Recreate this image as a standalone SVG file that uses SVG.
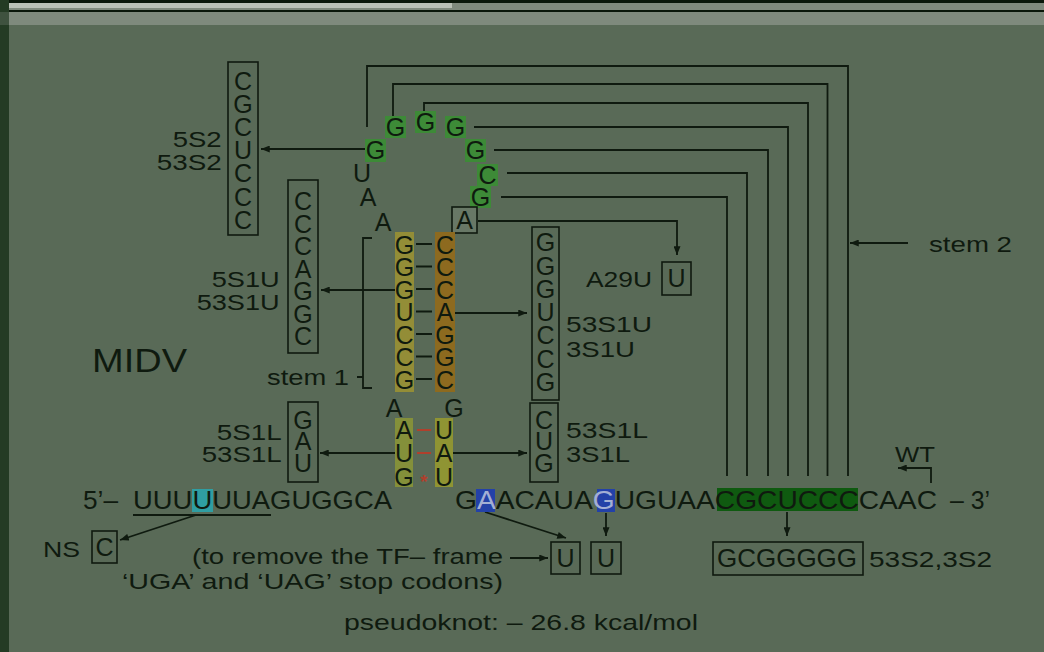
<svg xmlns="http://www.w3.org/2000/svg" width="1044" height="652" viewBox="0 0 1044 652">
<defs>
<marker id="ah" viewBox="0 0 10 8" refX="10" refY="4" markerWidth="9" markerHeight="7" markerUnits="userSpaceOnUse" orient="auto"><path d="M0,0 L10,4 L0,8 z" fill="#0f1a0f"/></marker>
</defs>
<style>
.t{font-family:"Liberation Sans",Arial,sans-serif;fill:#0f1a0f}
.b{font-size:25px;text-anchor:middle}
.l{font-size:22px}
.s{font-size:25px}
.box{fill:none;stroke:#0f1a0f;stroke-width:1.6}
.ln{fill:none;stroke:#0f1a0f;stroke-width:1.8}
.ar{marker-end:url(#ah)}
.gr{fill:#3d8a37}
.red{stroke:#b0402c;stroke-width:2}
.hl{fill:#a3afd4}
</style>
<rect width="1044" height="652" fill="#596a57"/>
<rect x="0" y="0" width="1044" height="25" fill="#7f8a7d"/>
<rect x="0" y="0" width="1044" height="3" fill="#0a170a"/>
<rect x="9" y="3" width="443" height="5" fill="#b9c0b6"/>
<rect x="0" y="10" width="1044" height="2" fill="#0a170a"/>
<rect x="0" y="0" width="9" height="652" fill="#243b24"/>
<rect x="0" y="12" width="9" height="13" fill="#3f523f"/>

<g id="connectors">
<path class="ln" d="M367,127 V66 H848 V476"/>
<path class="ln" d="M393,117 V84 H827.5 V476"/>
<path class="ln" d="M424,112 V103 H808 V476"/>
<path class="ln" d="M474,127 H788 V476"/>
<path class="ln" d="M494,150 H768 V476"/>
<path class="ln" d="M507,173 H747 V476"/>
<path class="ln" d="M501,197 H727 V476"/>
<path class="ln ar" d="M478,221 H677 V255"/>
<path class="ln ar" d="M365,149 H261"/>
<path class="ln ar" d="M908,243 H850"/>
<path class="ln ar" d="M395,290 H321"/>
<path class="ln ar" d="M455,313 H527"/>
<path class="ln" d="M372,238 H363 V388 H372 M363,377 H357"/>
<path class="ln ar" d="M395,453 H320"/>
<path class="ln ar" d="M453,453 H527"/>
<path class="ln ar" d="M196,515 L120,540"/>
<path class="ln ar" d="M485,512 L566,538"/>
<path class="ln ar" d="M606,513 V536"/>
<path class="ln ar" d="M510,558 H548"/>
<path class="ln ar" d="M787,512 V536"/>
<path class="ln ar" d="M931,483 V468 H898"/>
<path class="ln" d="M133,515 H271"/>
</g>

<g id="box-5S2">
<rect class="box" x="228" y="62" width="30" height="173"/>
<text class="t b" x="243" y="89.5">C</text>
<text class="t b" x="243" y="112.7">G</text>
<text class="t b" x="243" y="135.9">C</text>
<text class="t b" x="243" y="159.1">U</text>
<text class="t b" x="243" y="182.3">C</text>
<text class="t b" x="243" y="205.5">C</text>
<text class="t b" x="243" y="228.7">C</text>
<text class="t l" x="172.7" y="147" textLength="49" lengthAdjust="spacingAndGlyphs">5S2</text>
<text class="t l" x="156.7" y="169.5" textLength="65" lengthAdjust="spacingAndGlyphs">53S2</text>
</g>

<g id="box-5S1U">
<rect class="box" x="288" y="180" width="30" height="173"/>
<text class="t b" x="303" y="210.2">C</text>
<text class="t b" x="303" y="232.7">C</text>
<text class="t b" x="303" y="255.2">C</text>
<text class="t b" x="303" y="277.7">A</text>
<text class="t b" x="303" y="300.2">G</text>
<text class="t b" x="303" y="322.7">G</text>
<text class="t b" x="303" y="345.2">C</text>
<text class="t l" x="211.7" y="287" textLength="68" lengthAdjust="spacingAndGlyphs">5S1U</text>
<text class="t l" x="196.7" y="309.5" textLength="83" lengthAdjust="spacingAndGlyphs">53S1U</text>
</g>

<g id="loop">
<rect class="gr" x="365" y="139" width="21" height="23"/>
<rect class="gr" x="385" y="116" width="21" height="22"/>
<rect class="gr" x="415" y="111" width="21" height="22"/>
<rect class="gr" x="445" y="116" width="21" height="22"/>
<rect class="gr" x="465" y="139" width="21" height="23"/>
<rect class="gr" x="477" y="164" width="21" height="22"/>
<rect class="gr" x="470" y="186" width="21" height="22"/>
<rect x="452" y="207" width="25" height="26" fill="#687866" stroke="#0f1a0f" stroke-width="1.6"/>
<text class="t b" x="375.5" y="158.5">G</text>
<text class="t b" x="395.5" y="135.5">G</text>
<text class="t b" x="425.5" y="130.5">G</text>
<text class="t b" x="455.5" y="135.5">G</text>
<text class="t b" x="475.5" y="158.5">G</text>
<text class="t b" x="487.5" y="183.5">C</text>
<text class="t b" x="480.5" y="205.5">G</text>
<text class="t b" x="464.5" y="228.5">A</text>
<text class="t b" x="362" y="181.5">U</text>
<text class="t b" x="368" y="205.5">A</text>
<text class="t b" x="383" y="230.5">A</text>
</g>

<g id="stem1">
<rect x="395" y="232" width="19" height="160" fill="#938d37"/>
<rect x="435" y="232" width="20" height="160" fill="#8d6a1f"/>
<text class="t b" x="404.5" y="253.5">G</text>
<text class="t b" x="404.5" y="276">G</text>
<text class="t b" x="404.5" y="298.5">G</text>
<text class="t b" x="404.5" y="321">U</text>
<text class="t b" x="404.5" y="343.5">C</text>
<text class="t b" x="404.5" y="366">C</text>
<text class="t b" x="404.5" y="388.5">G</text>
<text class="t b" x="445" y="253.5">C</text>
<text class="t b" x="445" y="276">C</text>
<text class="t b" x="445" y="298.5">C</text>
<text class="t b" x="445" y="321">A</text>
<text class="t b" x="445" y="343.5">G</text>
<text class="t b" x="445" y="366">G</text>
<text class="t b" x="445" y="388.5">C</text>
<path class="ln" d="M416,244 H432 M416,266.5 H432 M416,289 H432 M416,311.5 H432 M416,334 H432 M416,356.5 H432 M416,379 H432"/>
<text class="t l" x="267" y="385" textLength="82" lengthAdjust="spacingAndGlyphs">stem 1</text>
</g>

<g id="stem1-lower">
<text class="t b" x="394" y="416.5">A</text>
<text class="t b" x="454" y="416.5">G</text>
<rect x="395" y="418" width="18" height="69" fill="#84903a"/>
<rect x="435" y="418" width="18" height="69" fill="#8f9433"/>
<text class="t b" x="404" y="438.5">A</text>
<text class="t b" x="404" y="461.5">U</text>
<text class="t b" x="404" y="485.5">G</text>
<text class="t b" x="444" y="438.5">U</text>
<text class="t b" x="444" y="461.5">A</text>
<text class="t b" x="444" y="485.5">U</text>
<path class="red" d="M417,430 H431 M417,453 H431"/>
<text x="424" y="488" font-family="Liberation Sans, sans-serif" font-size="19" font-weight="bold" fill="#b0402c" text-anchor="middle">*</text>
</g>

<g id="box-53S1U">
<rect class="box" x="532" y="227" width="27" height="173"/>
<text class="t b" x="545.5" y="251.2">G</text>
<text class="t b" x="545.5" y="274.5">G</text>
<text class="t b" x="545.5" y="297.8">G</text>
<text class="t b" x="545.5" y="321.1">U</text>
<text class="t b" x="545.5" y="344.4">C</text>
<text class="t b" x="545.5" y="367.7">C</text>
<text class="t b" x="545.5" y="391">G</text>
<text class="t l" x="566" y="331.7" textLength="86" lengthAdjust="spacingAndGlyphs">53S1U</text>
<text class="t l" x="566" y="356.7" textLength="69" lengthAdjust="spacingAndGlyphs">3S1U</text>
</g>

<g id="box-A29U">
<text class="t l" x="586" y="287" textLength="66" lengthAdjust="spacingAndGlyphs">A29U</text>
<rect class="box" x="662" y="262" width="29" height="33"/>
<text class="t b" x="676.5" y="287">U</text>
</g>

<g id="box-5S1L">
<rect class="box" x="288" y="402" width="30" height="80"/>
<text class="t b" x="303" y="428.5">G</text>
<text class="t b" x="303" y="450.2">A</text>
<text class="t b" x="303" y="471.8">U</text>
<text class="t l" x="216.7" y="440" textLength="65" lengthAdjust="spacingAndGlyphs">5S1L</text>
<text class="t l" x="201.7" y="462" textLength="80" lengthAdjust="spacingAndGlyphs">53S1L</text>
</g>

<g id="box-53S1L">
<rect class="box" x="530" y="403" width="28" height="79"/>
<text class="t b" x="544" y="428.5">C</text>
<text class="t b" x="544" y="450.2">U</text>
<text class="t b" x="544" y="471.8">G</text>
<text class="t l" x="566" y="438.3" textLength="82" lengthAdjust="spacingAndGlyphs">53S1L</text>
<text class="t l" x="566" y="461.7" textLength="64" lengthAdjust="spacingAndGlyphs">3S1L</text>
</g>

<g id="stem2-label">
<text class="t l" x="929" y="252" textLength="83" lengthAdjust="spacingAndGlyphs">stem 2</text>
</g>

<g id="title">
<text class="t" x="92" y="372" font-size="33" textLength="95" lengthAdjust="spacingAndGlyphs">MIDV</text>
</g>

<g id="sequence">
<rect x="192" y="489" width="21" height="23" fill="#2f9ea2"/>
<rect x="476" y="489" width="19" height="23" fill="#2341a8"/>
<rect x="597" y="489" width="18" height="23" fill="#2341a8"/>
<rect x="717" y="488" width="141" height="23" fill="#0f5a10"/>
<text class="t s" x="83" y="509" textLength="35" lengthAdjust="spacingAndGlyphs">5’–</text>
<text class="t s" x="133" y="509" textLength="259" lengthAdjust="spacingAndGlyphs">UUUUUUAGUGGCA</text>
<text class="t s" x="455" y="509" textLength="482" lengthAdjust="spacingAndGlyphs">G<tspan class="hl">A</tspan>ACAUA<tspan class="hl">G</tspan>UGUAACGCUCCCCAAC</text>
<text class="t s" x="950" y="509" textLength="40" lengthAdjust="spacingAndGlyphs">– 3’</text>
<text class="t l" x="895" y="462" textLength="40" lengthAdjust="spacingAndGlyphs">WT</text>
</g>

<g id="box-NS">
<text class="t l" x="43" y="557" textLength="37" lengthAdjust="spacingAndGlyphs">NS</text>
<rect class="box" x="92" y="531" width="25" height="32"/>
<text class="t b" x="104.5" y="556">C</text>
</g>

<g id="note">
<text class="t l" x="192" y="564" textLength="311" lengthAdjust="spacingAndGlyphs">(to remove the TF– frame</text>
<text class="t l" x="122" y="589" textLength="381" lengthAdjust="spacingAndGlyphs">‘UGA’ and ‘UAG’ stop codons)</text>
</g>

<g id="box-U1">
<rect class="box" x="551" y="542" width="29" height="32"/>
<text class="t b" x="565.5" y="567">U</text>
</g>
<g id="box-U2">
<rect class="box" x="591" y="542" width="30" height="32"/>
<text class="t b" x="606" y="567">U</text>
</g>

<g id="box-53S2">
<rect class="box" x="713" y="542" width="150" height="33"/>
<text class="t s" x="717" y="567" textLength="140" lengthAdjust="spacingAndGlyphs">GCGGGGG</text>
<text class="t l" x="869" y="567" textLength="123" lengthAdjust="spacingAndGlyphs">53S2,3S2</text>
</g>

<g id="energy">
<text class="t l" x="344" y="630" textLength="354" lengthAdjust="spacingAndGlyphs">pseudoknot: – 26.8 kcal/mol</text>
</g>
</svg>
